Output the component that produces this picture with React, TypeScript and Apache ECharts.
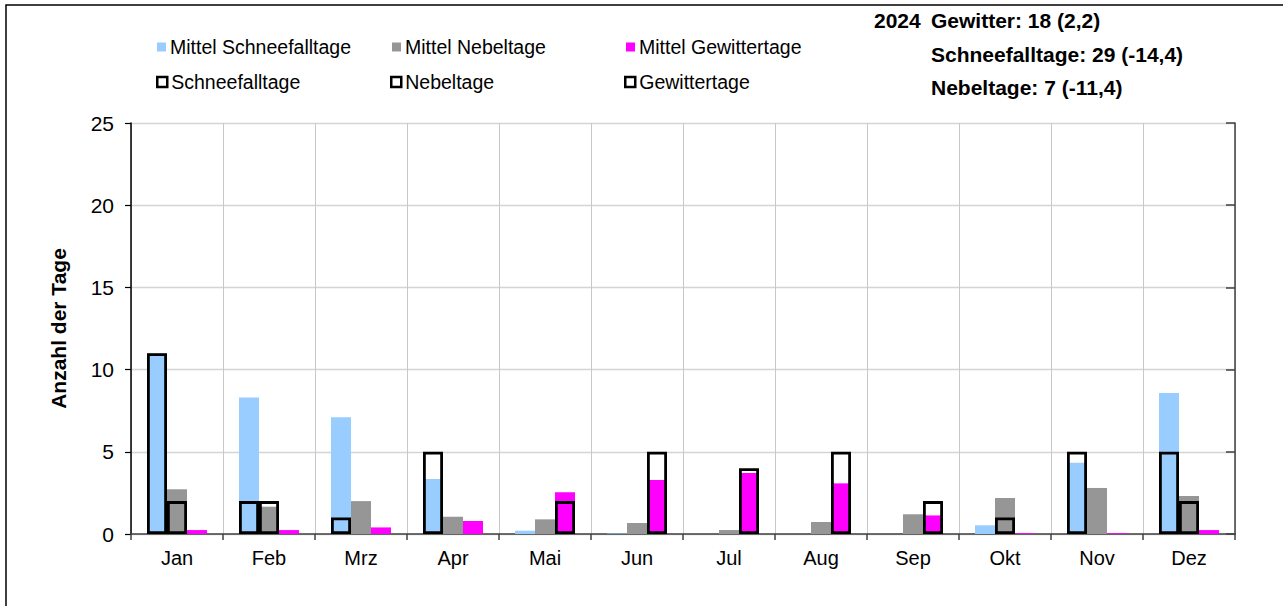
import React, { useEffect, useRef } from "react";
import * as echarts from "echarts";

const months = ["Jan", "Feb", "Mrz", "Apr", "Mai", "Jun", "Jul", "Aug", "Sep", "Okt", "Nov", "Dez"];
const meanSnow = [11.0, 8.31, 7.1, 3.35, 0.2, 0.03, 0, 0, 0, 0.53, 4.34, 8.58];
const meanFog = [2.72, 1.66, 2.0, 1.05, 0.89, 0.67, 0.24, 0.73, 1.2, 2.19, 2.8, 2.31];
const meanThunder = [0.24, 0.24, 0.4, 0.79, 2.54, 3.28, 3.71, 3.08, 1.13, 0.05, 0.05, 0.24];
const snow2024 = [11, 2, 1, 5, null, null, null, null, null, null, 5, 5];
const fog2024 = [2, 2, null, null, null, null, null, null, null, 1, null, 2];
const thunder2024 = [null, null, null, null, 2, 5, 4, 5, 2, null, null, null];
const yTicks = { min: 0, max: 25, interval: 5 };
const summaryLines = ["Gewitter: 18 (2,2)", "Schneefalltage: 29 (-14,4)", "Nebeltage: 7 (-11,4)"];
const summaryYear = "2024";

const FONT = "'Liberation Sans', Arial, sans-serif";
const BLUE = "#99CCFF";
const GRAY = "#969696";
const MAGENTA = "#FF00FF";

export default function App() {
  const ref = useRef<HTMLDivElement>(null);
  useEffect(() => {
    if (!ref.current) return;
    const chart = echarts.init(ref.current, null, { renderer: "svg" });
    const outline = { color: "rgba(0,0,0,0)", borderColor: "#000", borderWidth: 2.8 };
    const legendBase = (name: string, left: number, top: number, color: string | null) => ({
      data: [name],
      left,
      top,
      padding: 0,
      itemWidth: color ? 9 : 10,
      itemHeight: color ? 9 : 10,
      icon: "rect",
      itemStyle: color
        ? { color, borderWidth: 0 }
        : { color: "#fff", borderColor: "#000", borderWidth: 2.5 },
      textStyle: { fontFamily: FONT, fontSize: 19.5, color: "#000", padding: [0, 0, 0, -1] },
    });
    chart.setOption({
      animation: false,
      backgroundColor: "#fff",
      textStyle: { fontFamily: FONT },
      grid: { left: 131, right: 48, top: 123, bottom: 72, containLabel: false },
      legend: [
        legendBase("Mittel Schneefalltage", 157, 37, BLUE),
        legendBase("Mittel Nebeltage", 392, 37, GRAY),
        legendBase("Mittel Gewittertage", 626, 37, MAGENTA),
        legendBase("Schneefalltage", 156, 72, null),
        legendBase("Nebeltage", 390, 72, null),
        legendBase("Gewittertage", 624, 72, null),
      ],
      graphic: [
        { type: "rect", shape: { x: 6, y: 5, width: 1300, height: 650 }, style: { fill: "none", stroke: "#000", lineWidth: 1.5 }, silent: true },
        { type: "text", x: 874, y: 20, style: { text: summaryYear, font: `bold 21px ${FONT}`, fill: "#000", verticalAlign: "middle" } },
        { type: "text", x: 931, y: 20, style: { text: summaryLines[0], font: `bold 21px ${FONT}`, fill: "#000", verticalAlign: "middle" } },
        { type: "text", x: 931, y: 54, style: { text: summaryLines[1], font: `bold 21px ${FONT}`, fill: "#000", verticalAlign: "middle" } },
        { type: "text", x: 931, y: 87, style: { text: summaryLines[2], font: `bold 21px ${FONT}`, fill: "#000", verticalAlign: "middle" } },
      ],
      xAxis: [
        {
          type: "category",
          data: months,
          axisLine: { lineStyle: { color: "#404040", width: 1.5 } },
          axisTick: { show: true, length: 6, lineStyle: { color: "#404040", width: 1.5 } },
          axisLabel: { fontSize: 20, color: "#000", margin: 14, fontFamily: FONT },
          splitLine: { show: true, interval: 0, lineStyle: { color: "#c8c8c8", width: 1 } },
        },
        { type: "category", data: months, show: false },
      ],
      yAxis: [
        {
          type: "value",
          ...yTicks,
          name: "Anzahl der Tage",
          nameLocation: "middle",
          nameGap: 62,
          nameTextStyle: { fontFamily: FONT, fontSize: 21, fontWeight: "bold", color: "#000" },
          axisLine: { show: true, lineStyle: { color: "#000", width: 1.5 } },
          axisTick: { show: true, length: 6, lineStyle: { color: "#000", width: 1.2 } },
          axisLabel: { fontSize: 21, color: "#000", margin: 17, fontFamily: FONT },
          splitLine: { show: true, lineStyle: { color: "#d4d4d4", width: 1.3 } },
        },
        {
          type: "value",
          ...yTicks,
          position: "right",
          axisLine: { show: true, lineStyle: { color: "#404040", width: 1.5 } },
          axisTick: { show: true, inside: true, length: 9, lineStyle: { color: "#404040", width: 1.5 } },
          axisLabel: { show: false },
          splitLine: { show: false },
        },
      ],
      series: [
        { name: "Mittel Schneefalltage", type: "bar", xAxisIndex: 0, data: meanSnow, barWidth: 20, barGap: "0%", itemStyle: { color: BLUE } },
        { name: "Mittel Nebeltage", type: "bar", xAxisIndex: 0, data: meanFog, barWidth: 20, barGap: "0%", itemStyle: { color: GRAY } },
        { name: "Mittel Gewittertage", type: "bar", xAxisIndex: 0, data: meanThunder, barWidth: 20, barGap: "0%", itemStyle: { color: MAGENTA } },
        { name: "Schneefalltage", type: "bar", xAxisIndex: 1, data: snow2024, barWidth: 20, barGap: "0%", z: 5, itemStyle: outline },
        { name: "Nebeltage", type: "bar", xAxisIndex: 1, data: fog2024, barWidth: 20, barGap: "0%", z: 5, itemStyle: outline },
        { name: "Gewittertage", type: "bar", xAxisIndex: 1, data: thunder2024, barWidth: 20, barGap: "0%", z: 5, itemStyle: outline },
      ],
    });
    return () => chart.dispose();
  }, []);
  return <div ref={ref} style={{ position: "absolute", left: 0, top: 0, width: 1283, height: 606 }} />;
}
